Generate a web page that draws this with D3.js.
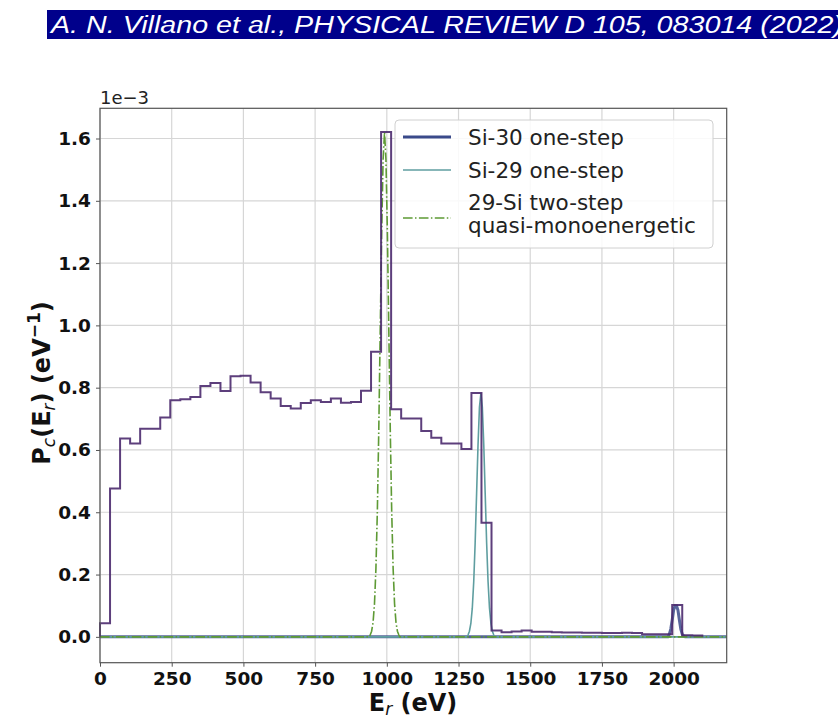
<!DOCTYPE html>
<html>
<head>
<meta charset="utf-8">
<script src="https://cdn.jsdelivr.net/npm/d3@7"></script>
<style>
  body { margin: 0; background: #fff; }
  svg { display: block; font-family: "DejaVu Sans", sans-serif; }
</style>
</head>
<body>
<svg id="chart" width="838" height="718"></svg>
<script>
// histogram bins: 35 eV wide, starting at 0 (values in 1e-3 /eV)
const binWidth = 35;
const histValues = [
  0.044, 0.476, 0.637, 0.621, 0.668, 0.668, 0.704, 0.760, 0.763, 0.770,
  0.805, 0.815, 0.789, 0.837, 0.838, 0.817, 0.785, 0.765, 0.741, 0.733,
  0.751, 0.760, 0.754, 0.765, 0.752, 0.754, 0.790, 0.915, 1.621, 0.731,
  0.701, 0.701, 0.661, 0.639, 0.621, 0.621, 0.603, 0.783, 0.366, 0.020,
  0.015, 0.017, 0.020, 0.016, 0.016, 0.015, 0.014, 0.014, 0.013, 0.013,
  0.012, 0.012, 0.013, 0.012, 0.008, 0.008, 0.008, 0.102, 0.005, 0.004
];

// Si-30 one-step (peak near 2010 eV)
const si30E = [0, 1980, 1985, 1990, 1995, 2000, 2005, 2010, 2015, 2020, 2025, 2030, 2035, 2040, 2185];
const si30P = [0, 0, 0.0085, 0.025, 0.054, 0.086, 0.100, 0.100, 0.086, 0.054, 0.025, 0.0085, 0.002, 0, 0];

// Si-29 one-step (peak near 1328 eV)
const si29E = [0, 1280, 1283, 1288, 1293, 1298, 1303, 1308, 1313, 1318, 1323, 1328,
  1333, 1338, 1343, 1348, 1353, 1358, 1363, 1368, 1373, 1376, 2185];
const si29P = [0, 0, 0.006, 0.018, 0.043, 0.092, 0.177, 0.302, 0.459, 0.617, 0.738, 0.783,
  0.738, 0.617, 0.459, 0.302, 0.177, 0.092, 0.043, 0.018, 0.006, 0, 0];

// 29-Si two-step quasi-monoenergetic (peak near 992 eV)
const twoStepE = [0, 940, 942, 947, 952, 957, 962, 967, 972, 977, 982, 987, 992,
  997, 1002, 1007, 1012, 1017, 1022, 1027, 1032, 1037, 1042, 1045, 2185];
const twoStepP = [0, 0, 0.006, 0.018, 0.046, 0.106, 0.219, 0.404, 0.666, 0.983, 1.297, 1.532, 1.620,
  1.532, 1.297, 0.983, 0.666, 0.404, 0.219, 0.106, 0.046, 0.018, 0.006, 0, 0];

const xTicks = [0, 250, 500, 750, 1000, 1250, 1500, 1750, 2000];
const yTicks = [0, 0.2, 0.4, 0.6, 0.8, 1.0, 1.2, 1.4, 1.6];
const legendLabels = ["Si-30 one-step", "Si-29 one-step", ["29-Si two-step", "quasi-monoenergetic"]];

let chart = d3.select("#chart");

// header banner
chart.append("rect")
    .attr("x", 47).attr("y", 10)
    .attr("width", 800).attr("height", 29)
    .attr("fill", "#00008b");
chart.append("text")
    .text("A. N. Villano et al., PHYSICAL REVIEW D 105, 083014 (2022)")
    .attr("x", 51).attr("y", 33)
    .attr("textLength", 792)
    .attr("lengthAdjust", "spacingAndGlyphs")
    .style("font-family", "'Liberation Sans', Arial, sans-serif")
    .style("font-style", "italic")
    .style("font-size", "23px")
    .style("fill", "#ffffff");

// scales
let x = d3.scaleLinear().domain([0, 2185]).range([100, 726.7]);
let y = d3.scaleLinear().domain([-0.083, 1.697]).range([662.7, 108.3]);

// grid
chart.append("g").selectAll("line")
    .data(xTicks).enter().append("line")
    .attr("x1", d => x(d)).attr("x2", d => x(d))
    .attr("y1", y.range()[0]).attr("y2", y.range()[1])
    .attr("stroke", "#d6d6d6").attr("stroke-width", 1.2);
chart.append("g").selectAll("line")
    .data(yTicks).enter().append("line")
    .attr("y1", d => y(d)).attr("y2", d => y(d))
    .attr("x1", x.range()[0]).attr("x2", x.range()[1])
    .attr("stroke", "#d6d6d6").attr("stroke-width", 1.2);

// axes
let xAxis = d3.axisBottom(x).tickValues(xTicks).tickFormat(d3.format("d")).tickSizeOuter(0).tickSize(4).tickPadding(5);
let yAxis = d3.axisLeft(y).tickValues(yTicks).tickFormat(d3.format(".1f")).tickSizeOuter(0).tickSize(4).tickPadding(5);

let xAxisGroup = chart.append("g")
    .attr("transform", "translate(0," + y.range()[0] + ")")
    .call(xAxis);
let yAxisGroup = chart.append("g")
    .attr("transform", "translate(" + x.range()[0] + ",0)")
    .call(yAxis);
[xAxisGroup, yAxisGroup].forEach(g => {
    g.select(".domain").remove();
    g.selectAll("line").attr("stroke", "#555");
    g.selectAll("text")
        .style("font-family", "'DejaVu Sans', sans-serif")
        .style("font-weight", "bold")
        .style("font-size", "18.5px")
        .style("fill", "#111");
});

// curves
let line = d3.line().x(d => x(d[0])).y(d => y(d[1]));

chart.append("path")
    .datum(si30E.map((e, i) => [e, si30P[i]]))
    .attr("fill", "none")
    .attr("stroke", "#3a4a8a")
    .attr("stroke-opacity", 0.85)
    .attr("stroke-width", 3)
    .attr("d", line);

chart.append("path")
    .datum(si29E.map((e, i) => [e, si29P[i]]))
    .attr("fill", "none")
    .attr("stroke", "#5f9ea0")
    .attr("stroke-width", 1.6)
    .attr("d", line);

chart.append("path")
    .datum(twoStepE.map((e, i) => [e, twoStepP[i]]))
    .attr("fill", "none")
    .attr("stroke", "#5e9a35")
    .attr("stroke-width", 1.6)
    .attr("stroke-dasharray", "9.6,2.4,1.5,2.4")
    .attr("d", line);

// histogram step outline
let histPts = [[0, 0]];
histValues.forEach((v, i) => histPts.push([i * binWidth, v]));
histPts.push([histValues.length * binWidth, histValues[histValues.length - 1]]);
histPts.push([histValues.length * binWidth, 0]);
chart.append("path")
    .datum(histPts)
    .attr("fill", "none")
    .attr("stroke", "#4b2a6e")
    .attr("stroke-opacity", 0.9)
    .attr("stroke-width", 2)
    .attr("d", d3.line().x(d => x(d[0])).y(d => y(d[1])).curve(d3.curveStepAfter));

// spines
chart.append("rect")
    .attr("x", x.range()[0]).attr("y", y.range()[1])
    .attr("width", x.range()[1] - x.range()[0])
    .attr("height", y.range()[0] - y.range()[1])
    .attr("fill", "none").attr("stroke", "#555").attr("stroke-width", 1.2);

// offset text
chart.append("text")
    .text("1e\u22123")
    .attr("x", 100).attr("y", 104)
    .style("font-size", "18px")
    .style("fill", "#222");

// axis labels
let xl = chart.append("text")
    .attr("x", 413).attr("y", 711)
    .style("text-anchor", "middle")
    .style("font-weight", "bold")
    .style("font-size", "24px")
    .style("fill", "#111");
xl.append("tspan").text("E");
xl.append("tspan").text("r").attr("dy", 4).style("font-style", "italic").style("font-weight", "normal").style("font-size", "17px");
xl.append("tspan").text(" (eV)").attr("dy", -4);

let yl = chart.append("text")
    .attr("transform", "translate(50,383) rotate(-90)")
    .style("text-anchor", "middle")
    .style("font-weight", "bold")
    .style("font-size", "24px")
    .style("fill", "#111");
yl.append("tspan").text("P");
yl.append("tspan").text("c").attr("dy", 5).style("font-style", "italic").style("font-weight", "normal").style("font-size", "17px");
yl.append("tspan").text("(E").attr("dy", -5);
yl.append("tspan").text("r").attr("dy", 5).style("font-style", "italic").style("font-weight", "normal").style("font-size", "17px");
yl.append("tspan").text(") (eV").attr("dy", -5);
yl.append("tspan").text("\u22121").attr("dy", -10).style("font-size", "17px");
yl.append("tspan").text(")").attr("dy", 10);

// legend
let legend = chart.append("g");
legend.append("rect")
    .attr("x", 395).attr("y", 120)
    .attr("width", 318).attr("height", 128)
    .attr("rx", 4)
    .attr("fill", "#fff").attr("fill-opacity", 0.85)
    .attr("stroke", "#d0d0d0");
let legendStyles = [
    {stroke: "#3a4a8a", width: 3, dash: null, y: 137},
    {stroke: "#5f9ea0", width: 1.6, dash: null, y: 170},
    {stroke: "#5e9a35", width: 1.6, dash: "9.6,2.4,1.5,2.4", y: 218}
];
legendStyles.forEach((s, i) => {
    legend.append("line")
        .attr("x1", 403).attr("x2", 451)
        .attr("y1", s.y).attr("y2", s.y)
        .attr("stroke", s.stroke).attr("stroke-width", s.width)
        .attr("stroke-dasharray", s.dash);
    let lab = legendLabels[i];
    let lines = Array.isArray(lab) ? lab : [lab];
    let t = legend.append("text")
        .attr("x", 468)
        .attr("y", lines.length > 1 ? s.y - 8 : s.y + 8)
        .style("font-size", "21.5px")
        .style("fill", "#222");
    lines.forEach((l, j) => {
        t.append("tspan").text(l).attr("x", 468).attr("dy", j === 0 ? 0 : 23);
    });
});
</script>
</body>
</html>
